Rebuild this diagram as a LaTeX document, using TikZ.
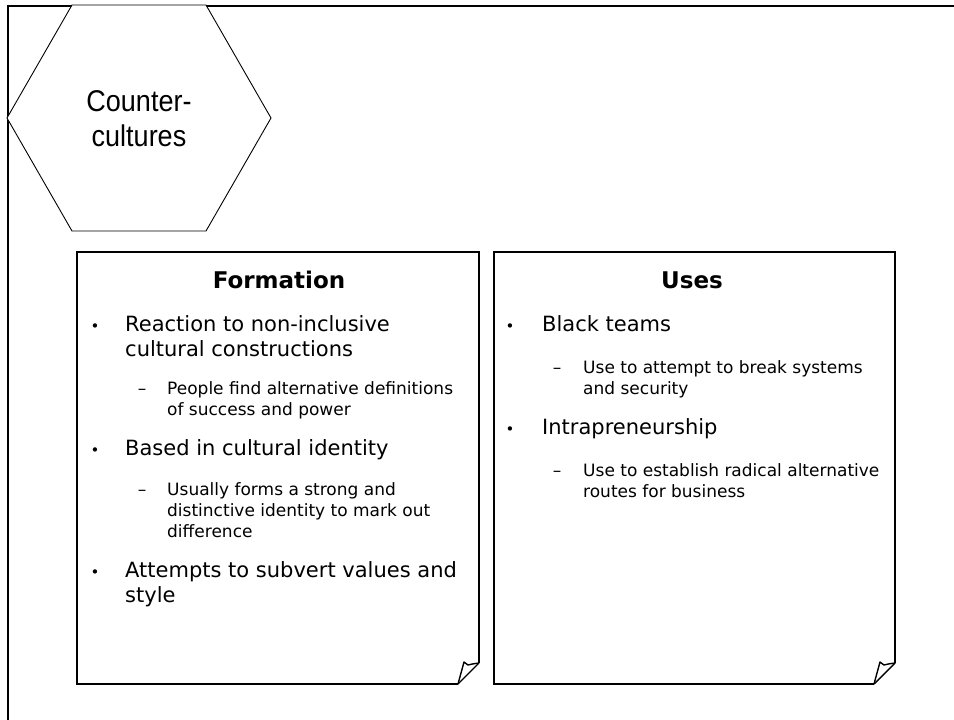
\documentclass[tikz,border=0pt]{standalone}
\usepackage{fontspec}
\setmainfont{DejaVu Sans}
\newfontfamily\hexfont[FakeStretch=0.9]{Liberation Sans}

\begin{document}
\begin{tikzpicture}[x=1pt,y=-1pt,
  pageframe/.style={line width=2.4pt},
  hexline/.style={line width=0.9pt, line join=miter},
  card/.style={line width=2pt, line join=miter},
  flap/.style={line width=1.4pt, line join=round},
  title/.style={font=\fontsize{23}{27}\selectfont\bfseries, inner sep=0pt, anchor=base},
  lone/.style={font=\fontsize{21}{25}\selectfont, inner sep=0pt, anchor=base west},
  ltwo/.style={font=\fontsize{17}{21}\selectfont, inner sep=0pt, anchor=base west},
  bul/.style={font=\fontsize{15}{18}\selectfont, inner sep=0pt, anchor=base},
  dsh/.style={font=\fontsize{17}{21}\selectfont, inner sep=0pt, anchor=base},
]
\useasboundingbox (0,0) rectangle (954,720);
\clip (0,0) rectangle (954,720);

% page frame running off the right and bottom edges
\draw[pageframe] (8,740) -- (8,6) -- (970,6);

% hexagon badge
\coordinate (h1) at (72,5);
\coordinate (h2) at (206,5);
\coordinate (h3) at (271,118);
\coordinate (h4) at (206,231);
\coordinate (h5) at (72,231);
\coordinate (h6) at (7,118);
\draw[hexline, fill=white] (h1) -- (h2) -- (h3) -- (h4) -- (h5) -- (h6) -- cycle;
\node[inner sep=0pt, align=center, font=\hexfont\fontsize{30}{35}\selectfont] (hex) at (139,118.5) {Counter-\\cultures};

% left card with folded corner
\coordinate (a1) at (77,252);
\coordinate (a2) at (479,252);
\coordinate (a3) at (479,663);
\coordinate (a4) at (458,684);
\coordinate (a5) at (77,684);
\draw[card] (a4) -- (a5) -- (a1) -- (a2) -- (a3);
\draw[flap] (a4) -- (a3);
\draw[flap] (a4) -- (464,662) -- (468,665) .. controls (472,664) .. (a3);

% right card with folded corner
\coordinate (b1) at (494,252);
\coordinate (b2) at (895,252);
\coordinate (b3) at (895,663);
\coordinate (b4) at (874,684);
\coordinate (b5) at (494,684);
\draw[card] (b4) -- (b5) -- (b1) -- (b2) -- (b3);
\draw[flap] (b4) -- (b3);
\draw[flap] (b4) -- (880,662) -- (884,665) .. controls (888,664) .. (b3);

% left card text
\node[title] (ftitle) at (279,288) {Formation};
\node[bul] (fb1) at (95,331) {•};
\node[lone] (f1a) at (125,331) {Reaction to non-inclusive};
\node[lone] (f1b) at (125,356) {cultural constructions};
\node[dsh] (fd1) at (142,394) {–};
\node[ltwo] (f1c) at (167,394) {People find alternative definitions};
\node[ltwo] (f1d) at (167,415) {of success and power};
\node[bul] (fb2) at (95,455) {•};
\node[lone] (f2a) at (125,455) {Based in cultural identity};
\node[dsh] (fd2) at (142,495) {–};
\node[ltwo] (f2b) at (167,495) {Usually forms a strong and};
\node[ltwo] (f2c) at (167,516) {distinctive identity to mark out};
\node[ltwo] (f2d) at (167,537) {difference};
\node[bul] (fb3) at (95,577) {•};
\node[lone] (f3a) at (125,577) {Attempts to subvert values and};
\node[lone] (f3b) at (125,602) {style};

% right card text
\node[title] (utitle) at (692,288) {Uses};
\node[bul] (ub1) at (510,331) {•};
\node[lone] (u1a) at (542,331) {Black teams};
\node[dsh] (ud1) at (557,373) {–};
\node[ltwo] (u1b) at (583,373) {Use to attempt to break systems};
\node[ltwo] (u1c) at (583,394) {and security};
\node[bul] (ub2) at (510,434) {•};
\node[lone] (u2a) at (542,434) {Intrapreneurship};
\node[dsh] (ud2) at (557,476) {–};
\node[ltwo] (u2b) at (583,476) {Use to establish radical alternative};
\node[ltwo] (u2c) at (583,497) {routes for business};
\end{tikzpicture}
\end{document}
